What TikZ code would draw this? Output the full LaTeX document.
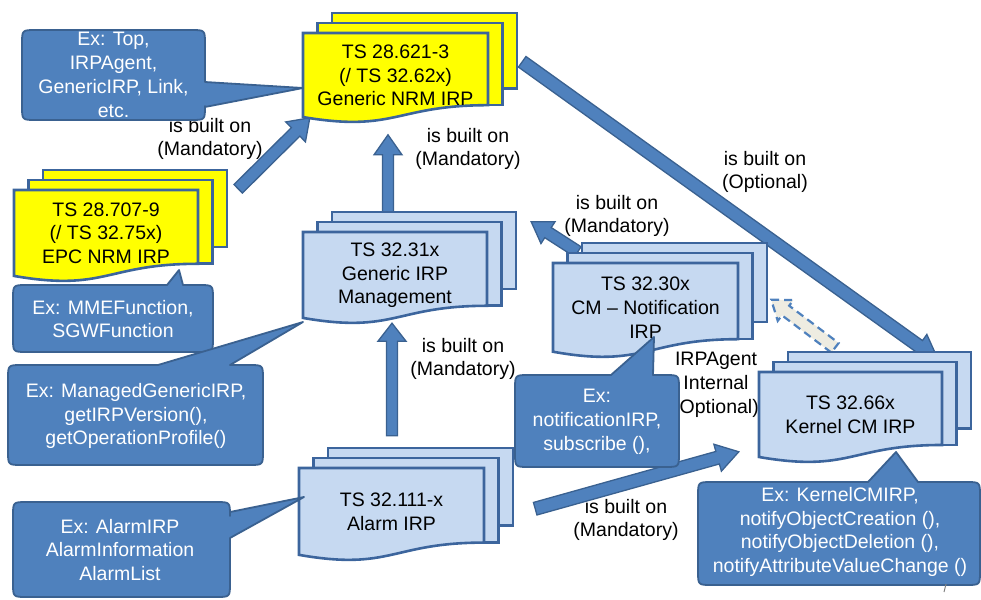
\documentclass[tikz,border=0pt]{standalone}
\usepackage{fontspec}
\setmainfont{Liberation Sans}
\usetikzlibrary{calc}

\definecolor{boxblue}{HTML}{4F81BD}
\definecolor{boxedge}{HTML}{3A6190}
\definecolor{pageblue}{HTML}{C6D9F1}
\definecolor{pageedge}{HTML}{3C659D}
\definecolor{pageyellow}{HTML}{FFFF00}
\definecolor{ghostfill}{HTML}{EEECE1}

\pgfdeclarelayer{labels}
\pgfdeclarelayer{arrows}
\pgfsetlayers{labels,arrows,main}

\newcommand\txtfont{\fontsize{19.5}{23.8}\selectfont}

% Stacked document symbol: name, x, y (top-left of front page), width, height, fill, text
\newcommand\multidoc[7]{%
  \draw[docpage, fill=#6] ({#2+29},{#3-20}) rectangle ({#2+#4+29},{#3+0.62*#5});
  \draw[docpage, fill=#6] ({#2+14.5},{#3-10}) rectangle ({#2+#4+14.5},{#3+0.8*#5});
  \draw[docpage, fill=#6] (#2,#3) -- ({#2+#4},#3) -- ({#2+#4},{#3+0.802*#5})
     .. controls ({#2+0.5*#4},{#3+0.802*#5}) and ({#2+0.5*#4},{#3+1.108*#5}) .. (#2,{#3+0.934*#5}) -- cycle;
  \node[doctext, minimum width=#4pt, minimum height={0.94*#5pt}] (#1) at ({#2+0.5*#4},{#3+0.47*#5}) {#7};
}

% Block arrow: [style] from, to, half shaft width, half head width, head length
\newcommand\blockarrow[6][]{%
  \coordinate (ba-h) at ($(#3)!#6!(#2)$);
  \draw[blockarrow,#1] ($(#2)!#4!90:(#3)$) -- ($(ba-h)!#4!90:(#3)$) -- ($(ba-h)!#5!90:(#3)$)
     -- (#3) -- ($(ba-h)!#5!-90:(#3)$) -- ($(ba-h)!#4!-90:(#3)$) -- ($(#2)!#4!-90:(#3)$) -- cycle;
}

% Rounded callout, tail on the top edge: x1, y1, x2, y2, tail base from x, to x, tip x, tip y
\newcommand\callouttop[8]{%
  \filldraw[callout] ({#1+14},#2) -- (#5,#2) -- (#7,#8) -- (#6,#2) -- ({#3-14},#2)
    .. controls (#3,#2) .. (#3,{#2+14}) -- (#3,{#4-14}) .. controls (#3,#4) .. ({#3-14},#4)
    -- ({#1+14},#4) .. controls (#1,#4) .. (#1,{#4-14}) -- (#1,{#2+14})
    .. controls (#1,#2) .. ({#1+14},#2) -- cycle;
}

% Rounded callout, tail on the right edge: x1, y1, x2, y2, tail base from y, to y, tip x, tip y
\newcommand\calloutright[8]{%
  \filldraw[callout] ({#1+14},#2) -- ({#3-14},#2) .. controls (#3,#2) .. (#3,{#2+14})
    -- (#3,#5) -- (#7,#8) -- (#3,#6) -- (#3,{#4-14}) .. controls (#3,#4) .. ({#3-14},#4)
    -- ({#1+14},#4) .. controls (#1,#4) .. (#1,{#4-14}) -- (#1,{#2+14})
    .. controls (#1,#2) .. ({#1+14},#2) -- cycle;
}

\begin{document}
\begin{tikzpicture}[x=1pt,y=-1pt,
  docpage/.style={draw=pageedge, line width=2.6pt, line join=miter},
  doctext/.style={font=\txtfont, align=center, inner sep=0pt, text=black},
  blockarrow/.style={fill=boxblue, draw=boxedge, line width=1.3pt, line join=miter},
  ghostarrow/.style={fill=ghostfill, draw=boxblue, line width=2.2pt, dash pattern=on 8pt off 5pt},
  callout/.style={fill=boxblue, draw=boxedge, line width=1.8pt, line join=round},
  callouttext/.style={font=\txtfont, align=center, inner sep=0pt, text=white},
  relabel/.style={font=\txtfont, align=center, inner sep=0pt, text=black}]

\useasboundingbox (0,0) rectangle (981,599);

% ---- specification documents ----
\multidoc{nrm}{303}{33}{185}{90}{pageyellow}{TS 28.621-3\\(/ TS 32.62x)\\Generic NRM IRP}
\multidoc{epc}{14}{190}{184}{92}{pageyellow}{TS 28.707-9\\(/ TS 32.75x)\\EPC NRM IRP}
\multidoc{mgmt}{303}{232}{184}{92}{pageblue}{TS 32.31x\\Generic IRP\\Management}
\multidoc{cmn}{553}{263}{185}{95}{pageblue}{TS 32.30x\\CM \textendash{} Notification\\IRP}
\multidoc{kcm}{759}{372}{183}{91}{pageblue}{TS 32.66x\\Kernel CM IRP}
\multidoc{alarm}{299}{468}{185}{93}{pageblue}{TS 32.111-x\\Alarm IRP}

% ---- relation labels ----
\begin{pgfonlayer}{labels}
  \node[relabel] (l1) at (210,139) {is built on\\(Mandatory)};
  \node[relabel] (l2) at (468,149) {is built on\\(Mandatory)};
  \node[relabel] (l3) at (765,172) {is built on\\(Optional)};
  \node[relabel] (l4) at (617,216) {is built on\\(Mandatory)};
  \node[relabel] (l5) at (463,359) {is built on\\(Mandatory)};
  \node[relabel] (l6) at (626,520) {is built on\\(Mandatory)};
  \node[relabel] (l7) at (716,385) {IRPAgent\\Internal\\(Optional)};
\end{pgfonlayer}

% ---- "is built on" block arrows ----
\begin{pgfonlayer}{arrows}
  \coordinate (a1s) at ($(epc.north east)+(40,-1)$);
  \coordinate (a1e) at ($(nrm.south west)+(7,0)$);
  \blockarrow{a1s}{a1e}{6pt}{14pt}{20pt}
  \coordinate (a2s) at ($(mgmt.north)+(-7,-19)$);
  \coordinate (a2e) at ($(nrm.south)+(-7.5,17)$);
  \blockarrow{a2s}{a2e}{5.5pt}{14pt}{20pt}
  \coordinate (a3s) at ($(alarm.north)+(0.5,-32)$);
  \coordinate (a3e) at ($(mgmt.south)+(-3,4.5)$);
  \blockarrow{a3s}{a3e}{5.5pt}{14pt}{18pt}
  \coordinate (a4s) at ($(cmn.north west)+(25,-11)$);
  \coordinate (a4e) at ($(mgmt.north east)+(44,-10)$);
  \blockarrow{a4s}{a4e}{6pt}{13pt}{20pt}
  \coordinate (a5s) at ($(nrm.north east)+(34,29)$);
  \coordinate (a5e) at ($(kcm.north east)+(-4,-12)$);
  \blockarrow{a5s}{a5e}{6.5pt}{14pt}{24pt}
  \coordinate (a6s) at ($(alarm.east)+(51,-3)$);
  \coordinate (a6e) at ($(kcm.west)+(-20,37)$);
  \blockarrow{a6s}{a6e}{6.5pt}{14pt}{22pt}
  \coordinate (a7s) at ($(kcm.north)+(-15.5,-24)$);
  \coordinate (a7e) at ($(cmn.east)+(33,-8)$);
  \blockarrow[ghostarrow]{a7s}{a7e}{6pt}{13pt}{18pt}
\end{pgfonlayer}

% ---- example callouts ----
\calloutright{22}{30}{205}{120}{82}{107}{303}{88}
\node[callouttext] (c1) at (113.5,75) {Ex: Top,\\IRPAgent,\\GenericIRP, Link,\\etc.};

\callouttop{13}{285}{213}{352}{167}{183}{179}{270}
\node[callouttext] (c2) at (113,319) {Ex: MMEFunction,\\SGWFunction};

\callouttop{8}{365}{263}{465}{158}{230}{303}{322}
\node[callouttext] (c3) at (136,416) {Ex: ManagedGenericIRP,\\getIRPVersion(),\\getOperationProfile()};

\calloutright{13}{502}{230}{597}{512}{538}{304}{497}
\node[callouttext] (c4) at (120,550) {Ex: AlarmIRP\\AlarmInformation\\AlarmList};

\callouttop{515}{375}{679}{467}{611}{653}{654}{337}
\node[callouttext] (c5) at (597,422) {Ex:\\notificationIRP,\\subscribe (),};

\callouttop{698}{482}{980}{585}{868}{918}{896}{452}
\node[callouttext] (c6) at (840,532) {Ex: KernelCMIRP,\\notifyObjectCreation (),\\notifyObjectDeletion (),\\notifyAttributeValueChange ()};

% small mark at the lower right corner
\draw[gray, line width=1pt] (946,584) -- (944,592);

\end{tikzpicture}
\end{document}
